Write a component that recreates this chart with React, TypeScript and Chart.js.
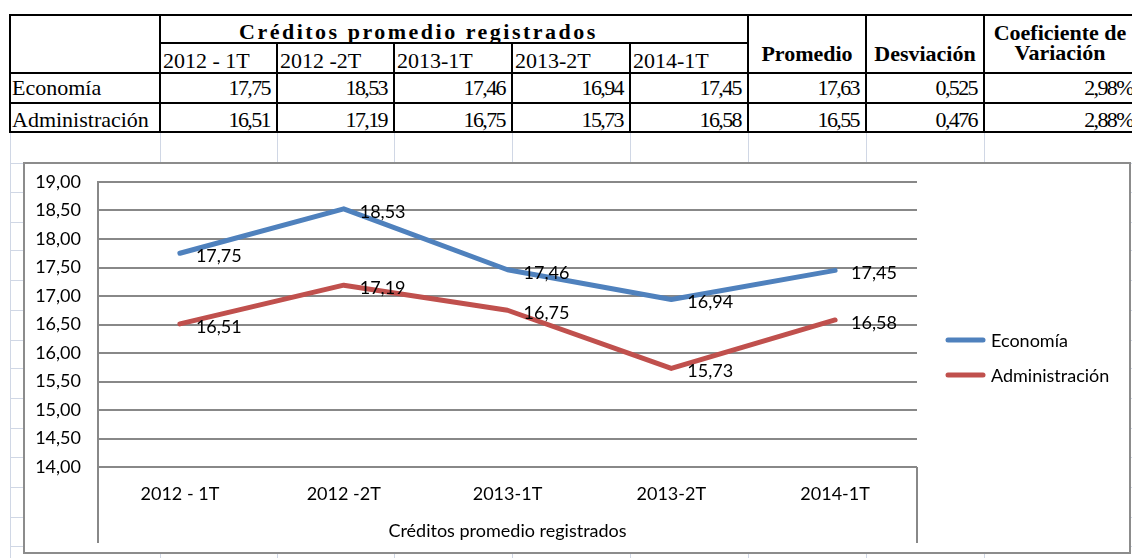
import React, { useEffect, useRef } from "react";
import { Chart, registerables } from "chart.js";

Chart.register(...registerables);

// ---------- data ----------
const periods = ["2012 - 1T", "2012 -2T", "2013-1T", "2013-2T", "2014-1T"];
const seriesNames = ["Economía", "Administración"];
const economia = [17.75, 18.53, 17.46, 16.94, 17.45];
const administracion = [16.51, 17.19, 16.75, 15.73, 16.58];
const promedio = [17.63, 16.55];
const desviacion = [0.525, 0.476];
const coefVariacion = [2.98, 2.88];
const groupTitle = "Créditos promedio registrados";
const yMin = 14;
const yMax = 19;
const yStep = 0.5;

// ---------- style / layout constants ----------
const BLUE = "#4F81BD";
const RED = "#C0504D";
const GRID = "#888888";
const SHEET_GRID = "#D0D7E5";
const CHART_FONT = "Lato";
const FONT_SIZE = 18;
const colEdges = [10, 160, 277, 394, 512, 630, 748, 866, 984, 1140];
const rowEdges = [15, 43, 73, 103, 132];
const sheetRowLines = [163, 192, 222, 250, 280, 310, 340, 368, 398, 428, 457, 487, 517, 546];

const fmt2 = (v: number) => v.toFixed(2).replace(".", ",");
const fmt3 = (v: number) => v.toFixed(3).replace(".", ",");

type TextProps = {
  x: number;
  w: number;
  baseline: number;
  align: "left" | "right" | "center";
  bold?: boolean;
  spacing?: number;
  pad?: number;
  children: React.ReactNode;
};

function CellText({ x, w, baseline, align, bold, spacing, pad, children }: TextProps) {
  return (
    <div
      style={{
        position: "absolute",
        left: x,
        width: w,
        top: baseline - 18.4,
        lineHeight: "22px",
        fontSize: 22,
        fontFamily: '"Liberation Serif", serif',
        fontWeight: bold ? 700 : 400,
        textAlign: align,
        whiteSpace: "nowrap",
        letterSpacing: spacing ?? 0,
        paddingLeft: align === "left" ? pad ?? 0 : 0,
        paddingRight: align === "right" ? pad ?? 0 : 0,
        boxSizing: "border-box",
        color: "#000",
      }}
    >
      {children}
    </div>
  );
}

function HLine({ x1, x2, y, color, w }: { x1: number; x2: number; y: number; color: string; w: number }) {
  return <div style={{ position: "absolute", left: x1, top: y - w / 2, width: x2 - x1, height: w, background: color }} />;
}
function VLine({ y1, y2, x, color, w }: { y1: number; y2: number; x: number; color: string; w: number }) {
  return <div style={{ position: "absolute", left: x - w / 2, top: y1, width: w, height: y2 - y1, background: color }} />;
}

const dataLabelPlugin = {
  id: "dataLabels",
  afterDatasetsDraw(chart: any) {
    const ctx = chart.ctx;
    ctx.save();
    ctx.font = `${FONT_SIZE}px ${CHART_FONT}`;
    ctx.fillStyle = "#000";
    ctx.textAlign = "left";
    ctx.textBaseline = "middle";
    chart.data.datasets.forEach((ds: any, i: number) => {
      const meta = chart.getDatasetMeta(i);
      meta.data.forEach((pt: any, j: number) => {
        ctx.fillText(fmt2(ds.data[j]), pt.x + 16, pt.y + 3);
      });
    });
    ctx.restore();
  },
};

const axisExtrasPlugin = {
  id: "axisExtras",
  afterDraw(chart: any) {
    const { ctx, chartArea } = chart;
    ctx.save();
    // multi-level category dividers
    ctx.strokeStyle = GRID;
    ctx.lineWidth = 2;
    ctx.beginPath();
    ctx.moveTo(chartArea.left, chartArea.bottom);
    ctx.lineTo(chartArea.left, chartArea.bottom + 76);
    ctx.moveTo(chartArea.right, chartArea.bottom);
    ctx.lineTo(chartArea.right, chartArea.bottom + 76);
    ctx.stroke();
    // legend
    ctx.font = `${FONT_SIZE}px ${CHART_FONT}`;
    ctx.textAlign = "left";
    ctx.textBaseline = "middle";
    chart.data.datasets.forEach((ds: any, i: number) => {
      const y = chartArea.top + 158 + i * 35;
      ctx.strokeStyle = ds.borderColor;
      ctx.lineWidth = 5;
      ctx.lineCap = "round";
      ctx.beginPath();
      ctx.moveTo(chartArea.right + 31, y);
      ctx.lineTo(chartArea.right + 66, y);
      ctx.stroke();
      ctx.fillStyle = "#000";
      ctx.fillText(ds.label, chartArea.right + 74, y + 1);
    });
    ctx.restore();
  },
};

function LineChart() {
  const ref = useRef<HTMLCanvasElement | null>(null);
  useEffect(() => {
    if (!ref.current) return;
    const chart = new Chart(ref.current, {
      type: "line",
      data: {
        labels: periods,
        datasets: [
          {
            label: seriesNames[0],
            data: economia,
            borderColor: BLUE,
            backgroundColor: BLUE,
            borderWidth: 5,
            pointRadius: 0,
            tension: 0,
            borderJoinStyle: "round",
            borderCapStyle: "round",
          },
          {
            label: seriesNames[1],
            data: administracion,
            borderColor: RED,
            backgroundColor: RED,
            borderWidth: 5,
            pointRadius: 0,
            tension: 0,
            borderJoinStyle: "round",
            borderCapStyle: "round",
          },
        ],
      },
      options: {
        responsive: false,
        animation: false,
        devicePixelRatio: 1,
        layout: { padding: { top: 18, right: 212, left: 0, bottom: 0 } },
        plugins: { legend: { display: false }, tooltip: { enabled: false }, title: { display: false } },
        scales: {
          x: {
            offset: true,
            grid: { display: false },
            border: { display: false },
            ticks: {
              font: { family: CHART_FONT, size: FONT_SIZE },
              color: "#000",
              padding: 8,
              maxRotation: 0,
              autoSkip: false,
            },
            title: {
              display: true,
              text: groupTitle,
              font: { family: CHART_FONT, size: FONT_SIZE },
              color: "#000",
              padding: { top: 0, bottom: 10 },
            },
            afterFit: (scale: any) => {
              scale.height = 85;
              scale.paddingTop = 0;
              scale.paddingBottom = 0;
              scale.paddingLeft = 0;
              scale.paddingRight = 0;
            },
          },
          y: {
            min: yMin,
            max: yMax,
            grid: { color: GRID, lineWidth: 2, drawTicks: false },
            border: { display: true, color: GRID, width: 2 },
            ticks: {
              stepSize: yStep,
              font: { family: CHART_FONT, size: FONT_SIZE },
              color: "#000",
              padding: 17,
              callback: (v: any) => fmt2(Number(v)),
            },
            afterFit: (scale: any) => {
              scale.width = 73;
              scale.paddingTop = 0;
              scale.paddingBottom = 0;
              scale.paddingLeft = 0;
              scale.paddingRight = 0;
            },
          },
        },
      },
      plugins: [dataLabelPlugin, axisExtrasPlugin],
    } as any);
    return () => chart.destroy();
  }, []);
  return <canvas ref={ref} width={1104} height={388} style={{ display: "block", width: 1104, height: 388 }} />;
}

export default function App() {
  const series = [economia, administracion];
  const rowBase = [39, 68.5, 95.5, 127];
  const numSpacing = -1.6;
  return (
    <div
      style={{
        position: "absolute",
        left: 0,
        top: 0,
        width: 1132,
        height: 558,
        overflow: "hidden",
        background: "#fff",
      }}
    >
      {/* sheet gridlines */}
      {colEdges.map((x, i) => (
        <VLine key={"sv" + i} x={x} y1={132} y2={558} color={SHEET_GRID} w={1} />
      ))}
      {sheetRowLines.map((y, i) => (
        <HLine key={"sh" + i} x1={10} x2={1132} y={y} color={SHEET_GRID} w={1} />
      ))}

      {/* table texts */}
      <CellText x={239} w={420} baseline={rowBase[0]} align="left" bold spacing={2.5}>
        {groupTitle}
      </CellText>
      {periods.map((p, i) => (
        <CellText key={"p" + i} x={colEdges[1 + i]} w={colEdges[2 + i] - colEdges[1 + i]} baseline={rowBase[1]} align="left" pad={3}>
          {p}
        </CellText>
      ))}
      <CellText x={colEdges[6]} w={colEdges[7] - colEdges[6]} baseline={61} align="center" bold>
        Promedio
      </CellText>
      <CellText x={colEdges[7]} w={colEdges[8] - colEdges[7]} baseline={61} align="center" bold>
        Desviación
      </CellText>
      <CellText x={colEdges[8]} w={152} baseline={40} align="center" bold>
        Coeficiente de
      </CellText>
      <CellText x={colEdges[8]} w={152} baseline={60} align="center" bold>
        Variación
      </CellText>
      {seriesNames.map((name, r) => (
        <React.Fragment key={"r" + r}>
          <CellText x={colEdges[0]} w={colEdges[1] - colEdges[0]} baseline={rowBase[2 + r]} align="left" pad={2}>
            {name}
          </CellText>
          {series[r].map((v, i) => (
            <CellText
              key={"v" + i}
              x={colEdges[1 + i]}
              w={colEdges[2 + i] - colEdges[1 + i]}
              baseline={rowBase[2 + r]}
              align="right"
              pad={7}
              spacing={numSpacing}
            >
              {fmt2(v)}
            </CellText>
          ))}
          <CellText x={colEdges[6]} w={colEdges[7] - colEdges[6]} baseline={rowBase[2 + r]} align="right" pad={7} spacing={numSpacing}>
            {fmt2(promedio[r])}
          </CellText>
          <CellText x={colEdges[7]} w={colEdges[8] - colEdges[7]} baseline={rowBase[2 + r]} align="right" pad={7} spacing={numSpacing}>
            {fmt3(desviacion[r])}
          </CellText>
          <CellText x={colEdges[8]} w={colEdges[9] - colEdges[8]} baseline={rowBase[2 + r]} align="right" pad={7} spacing={numSpacing}>
            {fmt2(coefVariacion[r]) + "%"}
          </CellText>
        </React.Fragment>
      ))}

      {/* table borders */}
      <HLine x1={9} x2={1140} y={rowEdges[0]} color="#000" w={2} />
      <HLine x1={colEdges[1]} x2={colEdges[6]} y={rowEdges[1]} color="#000" w={2} />
      <HLine x1={9} x2={1140} y={rowEdges[2]} color="#000" w={2} />
      <HLine x1={9} x2={1140} y={rowEdges[3]} color="#000" w={2} />
      <HLine x1={9} x2={1140} y={rowEdges[4]} color="#000" w={2} />
      {[0, 1, 6, 7, 8].map((c) => (
        <VLine key={"tv" + c} x={colEdges[c]} y1={rowEdges[0]} y2={rowEdges[4] + 1} color="#000" w={2} />
      ))}
      {[2, 3, 4, 5].map((c) => (
        <VLine key={"tw" + c} x={colEdges[c]} y1={rowEdges[1]} y2={rowEdges[4] + 1} color="#000" w={2} />
      ))}

      {/* chart */}
      <div
        style={{
          position: "absolute",
          left: 23,
          top: 162,
          width: 1108,
          height: 392,
          border: "2px solid #8C8C8C",
          boxSizing: "border-box",
          background: "#fff",
        }}
      >
        <LineChart />
      </div>
    </div>
  );
}
